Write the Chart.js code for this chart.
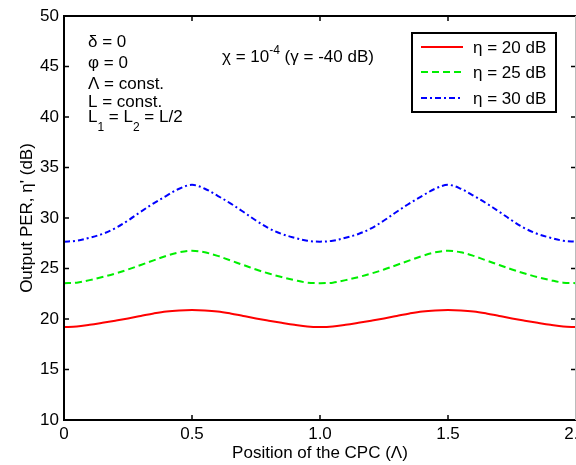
<!DOCTYPE html>
<html><head><meta charset="utf-8">
<script src="https://cdn.jsdelivr.net/npm/chart.js@4"></script>
<style>html,body{margin:0;padding:0;background:#fff;} canvas{display:block;}</style>
</head><body>
<canvas id="c" width="576" height="465"></canvas>
<script>
const xValues = [0,0.05,0.1,0.15,0.2,0.25,0.3,0.35,0.4,0.45,0.5,
  0.55,0.6,0.65,0.7,0.75,0.8,0.85,0.9,0.95,1,
  1.05,1.1,1.15,1.2,1.25,1.3,1.35,1.4,1.45,1.5,
  1.55,1.6,1.65,1.7,1.75,1.8,1.85,1.9,1.95,2];
const eta20 = [19.2,19.25,19.42,19.62,19.83,20.05,20.3,20.55,20.75,20.85,20.88,
  20.85,20.75,20.55,20.3,20.05,19.83,19.62,19.42,19.25,19.2,
  19.25,19.42,19.62,19.83,20.05,20.3,20.55,20.75,20.85,20.88,
  20.85,20.75,20.55,20.3,20.05,19.83,19.62,19.42,19.25,19.2];
const eta25 = [23.55,23.6,23.85,24.15,24.5,24.9,25.35,25.8,26.25,26.6,26.75,
  26.6,26.25,25.8,25.35,24.9,24.5,24.15,23.85,23.6,23.55,
  23.6,23.85,24.15,24.5,24.9,25.35,25.8,26.25,26.6,26.75,
  26.6,26.25,25.8,25.35,24.9,24.5,24.15,23.85,23.6,23.55];
const eta30 = [27.66,27.75,28.05,28.42,28.98,29.75,30.62,31.45,32.2,32.9,33.28,
  32.9,32.2,31.45,30.62,29.75,28.98,28.42,28.05,27.75,27.66,
  27.75,28.05,28.42,28.98,29.75,30.62,31.45,32.2,32.9,33.28,
  32.9,32.2,31.45,30.62,29.75,28.98,28.42,28.05,27.75,27.66];
const seriesLabels = ['η = 20 dB','η = 25 dB','η = 30 dB'];
const xTicks = [0,0.5,1,1.5,2];
const yTicks = [10,15,20,25,30,35,40,45,50];
const xTitle = 'Position of the CPC (Λ)';
const yTitle = "Output PER, η' (dB)";

const FONT = '"Liberation Sans", Arial, sans-serif';
const FS = 17;
const colors = ['#ff0000','#00ee00','#0000ff'];
const dashes = [[],[7,4],[6,3,2,3]];
const seriesData = [eta20, eta25, eta30];

const datasets = seriesData.map((arr,k)=>({
  label: seriesLabels[k],
  data: xValues.map((x,i)=>({x:x, y:arr[i]})),
  borderColor: colors[k],
  borderWidth: 2,
  borderDash: dashes[k],
  pointRadius: 0,
  fill: false,
  tension: 0.35
}));

const framePlugin = {
  id:'frame',
  afterDatasetsDraw(chart){
    const ctx = chart.ctx, a = chart.chartArea;
    const xs = chart.scales.x, ys = chart.scales.y;
    ctx.save();
    ctx.strokeStyle = '#000';
    ctx.lineWidth = 2;
    ctx.beginPath();
    ctx.moveTo(a.left, a.top); ctx.lineTo(a.right, a.top);
    ctx.moveTo(a.left, a.top-1); ctx.lineTo(a.left, a.bottom+1);
    ctx.moveTo(a.left, a.bottom); ctx.lineTo(a.right, a.bottom);
    ctx.stroke();
    ctx.lineWidth = 1.5;
    ctx.beginPath();
    yTicks.forEach(v=>{
      const y = ys.getPixelForValue(v);
      ctx.moveTo(a.left, y); ctx.lineTo(a.left+5, y);
      ctx.moveTo(a.right, y); ctx.lineTo(a.right-5, y);
    });
    xTicks.forEach(v=>{
      const x = xs.getPixelForValue(v);
      ctx.moveTo(x, a.bottom); ctx.lineTo(x, a.bottom-5);
      ctx.moveTo(x, a.top); ctx.lineTo(x, a.top+5);
    });
    ctx.stroke();
    ctx.strokeStyle = '#bbb'; ctx.lineWidth = 1;
    ctx.beginPath(); ctx.moveTo(575.5, a.top); ctx.lineTo(575.5, a.bottom); ctx.stroke();

    // annotations
    const big = FS + 'px ' + FONT, small = '12px ' + FONT;
    ctx.fillStyle = '#000';
    ctx.textAlign = 'left';
    ctx.textBaseline = 'alphabetic';
    ctx.font = big;
    ctx.fillText('δ = 0', 88, 47);
    ctx.fillText('φ = 0', 88, 68);
    ctx.fillText('Λ = const.', 88, 89);
    ctx.fillText('L = const.', 88, 107);
    let x = 88;
    const sub = (t, yb)=>{ ctx.font=small; ctx.fillText(t, x, yb); x += ctx.measureText(t).width; ctx.font=big; };
    const main = (t, yb)=>{ ctx.font=big; ctx.fillText(t, x, yb); x += ctx.measureText(t).width; };
    main('L',122); sub('1',131); main(' = L',122); sub('2',131); main(' = L/2',122);
    x = 222;
    main('χ = 10', 62);
    sub('-4', 54);
    main(' (γ = -40 dB)', 62);

    // legend
    ctx.fillStyle = '#fff';
    ctx.fillRect(412, 33, 144, 79);
    ctx.strokeStyle = '#000'; ctx.lineWidth = 2;
    ctx.strokeRect(412, 33, 144, 79);
    const rows = [47, 72, 98];
    rows.forEach((y,k)=>{
      ctx.strokeStyle = colors[k]; ctx.lineWidth = 2; ctx.setLineDash(dashes[k]);
      ctx.beginPath(); ctx.moveTo(421, y); ctx.lineTo(463, y); ctx.stroke();
      ctx.setLineDash([]);
      ctx.fillStyle = '#000'; ctx.font = big; ctx.textBaseline = 'middle';
      ctx.fillText(seriesLabels[k], 473, y+1);
    });
    ctx.restore();
  }
};

new Chart(document.getElementById('c').getContext('2d'), {
  type: 'line',
  data: { datasets: datasets },
  options: {
    responsive: false, animation: false, devicePixelRatio: 1,
    layout: { padding: { left: 0, right: 0, top: 16, bottom: 0 } },
    plugins: { legend: { display: false }, tooltip: { enabled: false } },
    scales: {
      x: {
        type: 'linear', min: 0, max: 2,
        afterBuildTicks: s => { s.ticks = xTicks.map(v=>({value:v})); },
        ticks: { color: '#000', font: { family: FONT, size: FS }, padding: 4, maxRotation: 0, autoSkip: false },
        grid: { display: false, drawTicks: false },
        border: { display: false },
        title: { display: true, text: xTitle, color: '#000', font: { family: FONT, size: FS }, padding: { top: 0, bottom: 1 } },
        afterFit: s => { s.height = 45; s.paddingLeft = 0; s.paddingRight = 0; }
      },
      y: {
        type: 'linear', min: 10, max: 50,
        afterBuildTicks: s => { s.ticks = yTicks.map(v=>({value:v})); },
        ticks: { color: '#000', font: { family: FONT, size: FS }, padding: 5 },
        grid: { display: false, drawTicks: false },
        border: { display: false },
        title: { display: true, text: yTitle, color: '#000', font: { family: FONT, size: FS }, padding: { top: 17, bottom: 0 } },
        afterFit: s => { s.width = 64; s.paddingTop = 0; s.paddingBottom = 0; }
      }
    }
  },
  plugins: [framePlugin]
});
</script>
</body></html>
